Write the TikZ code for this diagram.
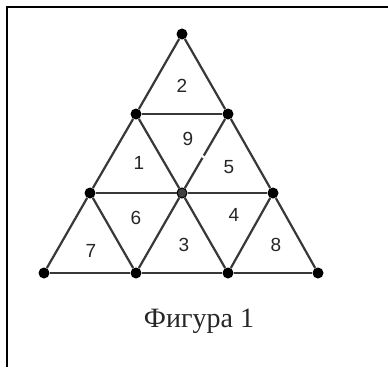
\documentclass[tikz,border=0pt]{standalone}
\usepackage{fontspec}
\setmainfont{Liberation Serif}
\newfontfamily\labfont{Liberation Sans}
\begin{document}
\begin{tikzpicture}[x=1pt,y=-1pt,
  dot/.style={circle,fill=black,inner sep=0pt,minimum size=11pt},
  edge/.style={draw=black!78,line width=2.2pt},
  lab/.style={font=\labfont\fontsize{19}{19}\selectfont,text=black!85,inner sep=0pt},
  frame/.style={line width=2.4pt,draw=black}]
\useasboundingbox (0,0) rectangle (388,367);
\fill[white] (0,0) rectangle (388,367);
\draw[frame] (7,367) -- (7,7) -- (388,7);
% vertices
\node[dot] (t) at (182,34) {};
\node[dot] (a1) at (136,114) {};
\node[dot] (a2) at (228,114) {};
\node[dot] (b1) at (90,193) {};
\node[dot,fill=black!75,draw=black,line width=1pt,minimum size=10pt] (b2) at (182,193) {};
\node[dot] (b3) at (273,193) {};
\node[dot] (c1) at (44,273) {};
\node[dot] (c2) at (136,273) {};
\node[dot] (c3) at (228,273) {};
\node[dot] (c4) at (318,273) {};
% edges
\draw[edge] (a1) -- (a2);
\draw[edge] (b1) -- (b2);
\draw[edge] (b2) -- (b3);
\draw[edge] (c1) -- (c2);
\draw[edge] (c2) -- (c3);
\draw[edge] (c3) -- (c4);
\draw[edge] (t) -- (a1);
\draw[edge] (a1) -- (b1);
\draw[edge] (b1) -- (c1);
\draw[edge] (t) -- (a2);
\draw[edge] (a2) -- (b3);
\draw[edge] (b3) -- (c4);
\draw[edge] (a1) -- (b2);
\draw[edge] (b2) -- (c3);
\draw[edge] (a2) -- (b2);
\draw[edge] (b2) -- (c2);
\draw[edge] (b1) -- (c2);
\draw[edge] (b3) -- (c3);
% small gap in the line
\path (b2) -- (a2) coordinate[pos=0.44] (g1) coordinate[pos=0.47] (g2);
\draw[white,line width=2.8pt] (g1) -- (g2);
% labels
\node[lab] (l2) at (182,86) {2};
\node[lab] (l9) at (188,139) {9};
\node[lab] (l1) at (139,163) {1};
\node[lab] (l5) at (229,167) {5};
\node[lab] (l6) at (136,218) {6};
\node[lab] (l4) at (234,215) {4};
\node[lab] (l7) at (91,251) {7};
\node[lab] (l3) at (184,245) {3};
\node[lab] (l8) at (276,245) {8};
\node[font=\fontsize{28}{28}\selectfont,text=black!85,inner sep=0pt] (cap) at (199,321) {Фигура 1};
\end{tikzpicture}
\end{document}
